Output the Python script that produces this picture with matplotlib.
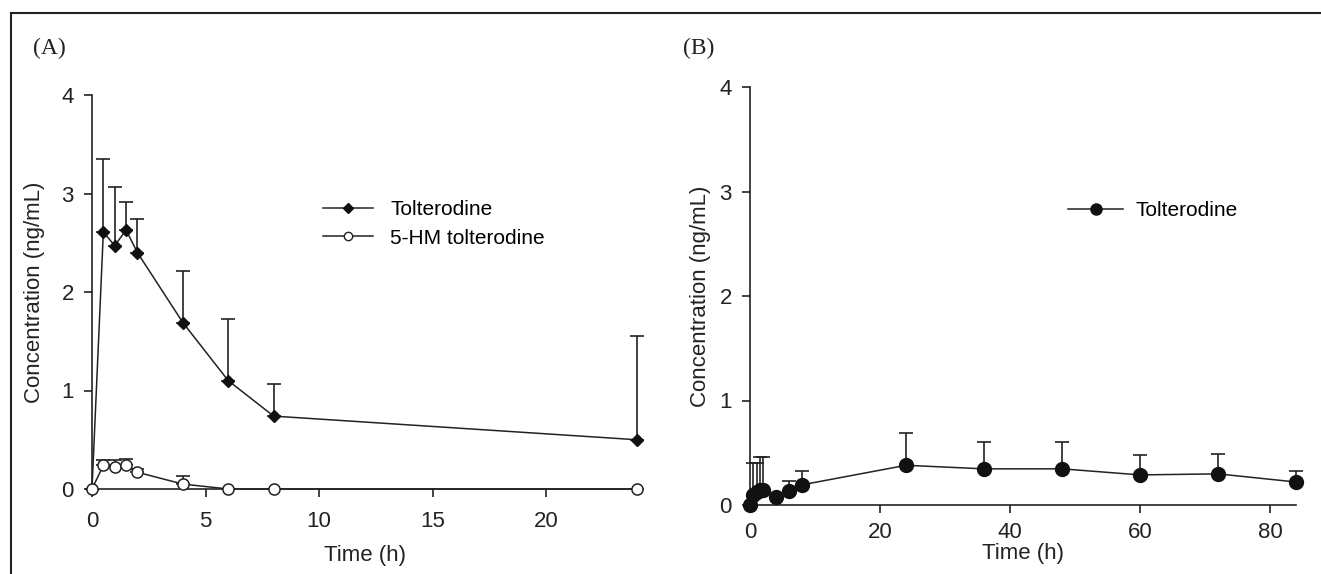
import numpy as np
import matplotlib.pyplot as plt
from matplotlib.lines import Line2D

# Panel A: single dose, 0-24 h
time_a = [0, 0.5, 1, 1.5, 2, 4, 6, 8, 24]
tol_a = [0, 2.61, 2.47, 2.63, 2.40, 1.69, 1.10, 0.74, 0.50]
tol_a_upper = [0, 3.35, 3.07, 2.91, 2.74, 2.21, 1.73, 1.07, 1.55]
hm_a = [0, 0.24, 0.22, 0.245, 0.17, 0.05, 0, 0, 0]
hm_a_upper = [0, 0.29, 0.29, 0.30, 0.20, 0.135, 0, 0, 0]

# Panel B: 0-84 h
time_b = [0, 0.5, 1, 1.5, 2, 4, 6, 8, 24, 36, 48, 60, 72, 84]
tol_b = [0, 0.10, 0.12, 0.14, 0.146, 0.075, 0.136, 0.193, 0.38, 0.346, 0.346, 0.288, 0.298, 0.22]
tol_b_upper = [0, 0.40, 0.40, 0.46, 0.46, 0.075, 0.227, 0.33, 0.685, 0.607, 0.607, 0.478, 0.49, 0.33]

plt.rcParams['font.family'] = ['Liberation Sans', 'DejaVu Sans']
INK = "#222222"

fig = plt.figure(figsize=(13.21, 5.74), dpi=100)

axA = fig.add_axes([92/1321, 1-489/574, (637-92)/1321, (489-95)/574])
axB = fig.add_axes([750/1321, 1-505/574, (1296-750)/1321, (505-87)/574])


def style(ax, xlim, xticks, pad, xlab_y, ylab_x):
    ax.set_xlim(*xlim)
    ax.set_ylim(0, 4)
    ax.set_xticks(xticks)
    ax.set_yticks([0, 1, 2, 3, 4])
    for s in ["top", "right"]:
        ax.spines[s].set_visible(False)
    for s in ["left", "bottom"]:
        ax.spines[s].set_linewidth(1.2)
        ax.spines[s].set_color(INK)
    ax.tick_params(direction="out", length=6, width=1.2, labelsize=16,
                   colors=INK)
    ax.tick_params(axis="x", pad=pad)
    ax.tick_params(axis="y", pad=7)
    ax.set_ylabel("Concentration (ng/mL)", fontsize=16, color=INK, va="center")
    ax.set_xlabel("Time (h)", fontsize=16, color=INK, va="center")
    ax.xaxis.set_label_coords(0.5, xlab_y)
    ax.yaxis.set_label_coords(ylab_x, 0.5)


def upper_err(y, up):
    y = np.array(y)
    return [np.zeros_like(y), np.array(up) - y]


# Panel A
axA.errorbar(time_a, tol_a, yerr=upper_err(tol_a, tol_a_upper), fmt="none",
             ecolor=INK, elinewidth=1.2, capsize=5, capthick=1.2, clip_on=False)
axA.errorbar(time_a, hm_a, yerr=upper_err(hm_a, hm_a_upper), fmt="none",
             ecolor=INK, elinewidth=1.2, capsize=5, capthick=1.2, clip_on=False)
axA.plot(time_a, tol_a, color=INK, lw=1.1, marker="D", ms=6.5,
         mfc="#111111", mec="#111111", clip_on=False, zorder=3)
axA.plot(time_a, hm_a, color=INK, lw=1.1, marker="o", ms=8,
         mfc="white", mec=INK, mew=1.1, clip_on=False, zorder=3)
style(axA, (0, 24), [0, 5, 10, 15, 20], 10, (489-556)/394, (35-92)/545)

handles_a = [
    Line2D([], [], color=INK, lw=1.1, marker="D", ms=5, mfc="#111111", mec="#111111"),
    Line2D([], [], color=INK, lw=1.1, marker="o", ms=6, mfc="white", mec=INK),
]
axA.legend(handles_a, ["Tolterodine", "5-HM tolterodine"], loc="center left",
           bbox_to_anchor=((313-92)/545, (489-224)/394), frameon=False, fontsize=15,
           handlelength=2.4, handletextpad=0.8, labelspacing=0.45, borderpad=0)

# Panel B
axB.errorbar(time_b, tol_b, yerr=upper_err(tol_b, tol_b_upper), fmt="none",
             ecolor=INK, elinewidth=1.2, capsize=5, capthick=1.2, clip_on=False)
axB.plot(time_b, tol_b, color=INK, lw=1.1, marker="o", ms=10,
         mfc="#111111", mec="#111111", clip_on=False, zorder=3)
style(axB, (0, 84), [0, 20, 40, 60, 80], 6, (505-553)/418, (700-750)/546)

handles_b = [Line2D([], [], color=INK, lw=1.1, marker="o", ms=8,
                    mfc="#111111", mec="#111111")]
axB.legend(handles_b, ["Tolterodine"], loc="center left",
           bbox_to_anchor=((1058-750)/546, (505-211)/418), frameon=False, fontsize=15,
           handlelength=2.6, handletextpad=0.6, borderpad=0)

# panel letters
fig.text(33/1321, 1-48/574, "(A)", fontsize=17, family=["Liberation Serif", "DejaVu Serif"],
         va="center", ha="left", color=INK)
fig.text(683/1321, 1-48/574, "(B)", fontsize=17, family=["Liberation Serif", "DejaVu Serif"],
         va="center", ha="left", color=INK)

# partial frame around the figure
fig.add_artist(Line2D([11/1321, 1], [1-13/574, 1-13/574], color=INK, lw=1.5))
fig.add_artist(Line2D([11/1321, 11/1321], [0, 1-13/574], color=INK, lw=1.5))

fig.savefig("out.png", dpi=100)
